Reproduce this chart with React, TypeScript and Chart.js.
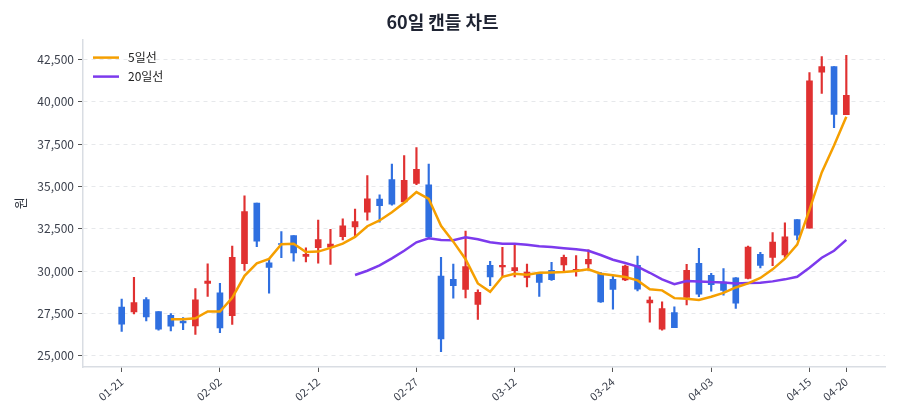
import React, { useEffect, useRef } from 'react';
import { Chart, registerables } from 'chart.js';

Chart.register(...registerables);

const dates = [
  '01-21', '01-22', '01-23', '01-26', '01-27', '01-28', '01-29', '01-30', '02-02', '02-03',
  '02-04', '02-05', '02-06', '02-09', '02-10', '02-11', '02-12', '02-13', '02-19', '02-20',
  '02-23', '02-24', '02-25', '02-26', '02-27', '03-03', '03-04', '03-05', '03-06', '03-09',
  '03-10', '03-11', '03-12', '03-13', '03-16', '03-17', '03-18', '03-19', '03-20', '03-23',
  '03-24', '03-25', '03-26', '03-27', '03-30', '03-31', '04-01', '04-02', '04-03', '04-06',
  '04-07', '04-08', '04-09', '04-10', '04-13', '04-14', '04-15', '04-16', '04-17', '04-20',
];

const opens = [
  27870, 27590, 28320, 27610, 27390, 27050, 26760, 29270, 28710, 27370,
  30430, 34020, 30490, 31620, 32100, 30870, 31380, 31410, 32040, 32610,
  33480, 34250, 35400, 34080, 35180, 35100, 29700, 29510, 28920, 28030,
  30340, 30240, 30020, 29630, 29810, 30040, 30360, 29980, 30420, 29810,
  29510, 29470, 30340, 28120, 26560, 27550, 28440, 30460, 29750, 29350,
  29600, 29570, 30990, 30810, 30950, 33040, 32530, 41750, 42080, 39240,
];
const highs = [
  28340, 29630, 28440, 27610, 27490, 27250, 28970, 30430, 29270, 31470,
  34450, 34020, 30750, 32330, 32100, 31380, 33010, 32470, 33090, 33660,
  35640, 34510, 36330, 36820, 37300, 36330, 30810, 30420, 32360, 28890,
  30580, 31410, 31560, 30420, 29920, 30520, 30950, 30910, 31250, 29920,
  29700, 30360, 30890, 28480, 28180, 27880, 30400, 31350, 29860, 30140,
  29620, 31480, 31110, 32270, 32850, 33040, 41730, 42680, 42080, 42750,
];
const lows = [
  26440, 27470, 27050, 26500, 26460, 26540, 26250, 28500, 26360, 26840,
  30040, 31440, 28700, 30790, 30590, 30540, 30460, 30400, 31840, 32020,
  33010, 32890, 33900, 34020, 35100, 31950, 25240, 28400, 28420, 27140,
  29130, 29660, 29660, 29070, 28500, 29450, 30020, 29700, 30060, 28150,
  27750, 29430, 28830, 26980, 26500, 26650, 28000, 28480, 28810, 28580,
  27790, 29530, 30180, 30320, 30810, 31840, 32530, 40500, 38480, 39240,
];
const closes = [
  26860, 28140, 27290, 26560, 26740, 26930, 28300, 29410, 26640, 30810,
  33520, 31760, 30220, 31580, 31070, 30990, 31860, 31590, 32670, 32930,
  34270, 33870, 33960, 35360, 36010, 32020, 25990, 29130, 30260, 28740,
  29650, 30340, 30200, 29940, 29330, 29490, 30810, 30100, 30700, 28180,
  28920, 30300, 28930, 28280, 27790, 26660, 30040, 28640, 29190, 28860,
  28100, 31420, 30340, 31720, 32020, 32120, 41250, 42080, 39260, 40380,
];

// 5-day moving average line (starts at the 5th day)
const ma5Start = 4;
const ma5 = [
  27150, 27150, 27210, 27610, 27610, 28420, 29720, 30460, 30720, 31590,
  31620, 31130, 31150, 31370, 31620, 32020, 32650, 32990, 33480, 34040,
  34670, 34270, 32670, 31740, 30700, 29270, 28770, 29660, 29840, 29780,
  29900, 29920, 29940, 30000, 30100, 29840, 29750, 29650, 29450, 28930,
  28860, 28400, 28360, 28290, 28480, 28710, 29030, 29270, 29590, 30100,
  30730, 31560, 33620, 35830, 37420, 39120,
];

// 20-day moving average line (starts at the 20th day)
const ma20Start = 19;
const ma20 = [
  29770, 30020, 30340, 30750, 31200, 31700, 31940, 31840, 31820, 32000,
  31880, 31700, 31620, 31620, 31560, 31470, 31420, 31350, 31290, 31200,
  30950, 30670, 30480, 30260, 29900, 29510, 29230, 29410, 29390, 29350,
  29330, 29270, 29290, 29310, 29390, 29510, 29660, 30200, 30790, 31200,
  31840,
];

const xTickIndex = [0, 8, 16, 24, 32, 40, 48, 56, 59];
const yTickValues = [25000, 27500, 30000, 32500, 35000, 37500, 40000, 42500];

const TITLE = '60일 캔들 차트';
const Y_TITLE = '원';
const MA5_LABEL = '5일선';
const MA20_LABEL = '20일선';

const FONT = "'Noto Sans CJK KR', 'Noto Sans', sans-serif";
const RED = '#e03131';
const BLUE = '#2f6fe0';
const ORANGE = '#f59f00';
const PURPLE = '#7c3aed';

const legendPlugin = {
  id: 'insideLegend',
  afterDraw(chart: any) {
    const { ctx, chartArea } = chart;
    const items = chart.data.datasets.filter((d: any) => d.type === 'line');
    ctx.save();
    items.forEach((d: any, k: number) => {
      const y = chartArea.top + 18 + k * 19;
      ctx.strokeStyle = d.borderColor;
      ctx.lineWidth = 2.5;
      ctx.beginPath();
      ctx.moveTo(chartArea.left + 10, y);
      ctx.lineTo(chartArea.left + 36, y);
      ctx.stroke();
      ctx.fillStyle = '#222';
      ctx.font = `12px ${FONT}`;
      ctx.textBaseline = 'middle';
      ctx.textAlign = 'left';
      ctx.fillText(d.label, chartArea.left + 45, y);
    });
    ctx.restore();
  },
};

export default function App() {
  const ref = useRef<HTMLCanvasElement>(null);

  useEffect(() => {
    if (!ref.current) return;
    const colors = closes.map((c, i) => (c >= opens[i] ? RED : BLUE));
    const chart = new Chart(ref.current, {
      type: 'bar',
      data: {
        datasets: [
          {
            type: 'line',
            label: MA5_LABEL,
            data: ma5.map((v, k) => ({ x: k + ma5Start, y: v })),
            borderColor: ORANGE,
            backgroundColor: ORANGE,
            borderWidth: 2.5,
            pointRadius: 0,
            tension: 0,
            order: 0,
          },
          {
            type: 'line',
            label: MA20_LABEL,
            data: ma20.map((v, k) => ({ x: k + ma20Start, y: v })),
            borderColor: PURPLE,
            backgroundColor: PURPLE,
            borderWidth: 2.5,
            pointRadius: 0,
            tension: 0,
            order: 0,
          },
          {
            type: 'bar',
            label: 'body',
            data: opens.map((o, i) => ({ x: i, y: [o, closes[i]] })),
            backgroundColor: colors,
            borderWidth: 0,
            barThickness: 6,
            grouped: false,
            order: 1,
          },
          {
            type: 'bar',
            label: 'wick',
            data: lows.map((l, i) => ({ x: i, y: [l, highs[i]] })),
            backgroundColor: colors,
            borderWidth: 0,
            barThickness: 1.5,
            grouped: false,
            order: 2,
          },
        ],
      } as any,
      options: {
        responsive: false,
        animation: false,
        layout: { padding: { left: 0, right: 15, top: 0, bottom: 0 } },
        plugins: {
          legend: { display: false },
          tooltip: { enabled: false },
          title: {
            display: true,
            text: TITLE,
            color: '#1f2433',
            font: { family: FONT, size: 18, weight: 'bold' },
            padding: { top: 11, bottom: 7 },
          },
        },
        scales: {
          x: {
            type: 'linear',
            min: -3.15,
            max: 62.15,
            offset: false,
            afterBuildTicks: (s: any) => {
              s.ticks = xTickIndex.map((v) => ({ value: v }));
            },
            afterFit: (s: any) => {
              s.height = 53;
            },
            ticks: {
              autoSkip: false,
              minRotation: 40,
              maxRotation: 40,
              padding: 3,
              color: '#3a3f4b',
              font: { family: FONT, size: 11 },
              callback: (v: any) => dates[v as number],
            },
            grid: {
              offset: false,
              drawOnChartArea: false,
              drawTicks: true,
              tickLength: 5,
              tickColor: '#555',
            },
            border: { display: true, color: '#d9dde3', width: 1.5 },
          },
          y: {
            min: 24330,
            max: 43680,
            afterBuildTicks: (s: any) => {
              s.ticks = yTickValues.map((v) => ({ value: v }));
            },
            afterFit: (s: any) => {
              s.width = 83;
            },
            ticks: {
              padding: 4,
              color: '#3a3f4b',
              font: { family: FONT, size: 12 },
              callback: (v: any) => Number(v).toLocaleString('en-US'),
            },
            grid: {
              color: '#e6e8eb',
              lineWidth: 1,
              tickColor: '#555',
              tickLength: 5,
            },
            border: { display: true, color: '#d9dde3', width: 1.5, dash: [4, 4] },
            title: {
              display: true,
              text: Y_TITLE,
              color: '#2a2f3a',
              font: { family: FONT, size: 13 },
              padding: { top: 12, bottom: 0 },
            },
          },
        },
      } as any,
      plugins: [legendPlugin],
    });
    return () => chart.destroy();
  }, []);

  return (
    <canvas
      ref={ref}
      width={900}
      height={420}
      style={{ position: 'absolute', left: 0, top: 0, width: 900, height: 420 }}
    />
  );
}
